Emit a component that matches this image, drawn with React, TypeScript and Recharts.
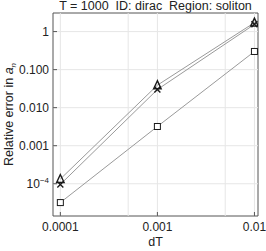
import React from 'react';
import {
  LineChart, Line, XAxis, YAxis, ReferenceLine, ReferenceArea,
} from 'recharts';

// ---------------------------------------------------------------------------
// Data
// ---------------------------------------------------------------------------

const dtValues = [0.0001, 0.001, 0.01];
const triangleErr = [1.33e-4, 0.039, 1.72];
const crossErr = [0.96e-4, 0.030, 1.55];
const squareErr = [3.2e-5, 0.0032, 0.30];

const xTicks = [0.0001, 0.001, 0.01];
const xTickLabels = ['0.0001', '0.001', '0.01'];
const xGrid = [0.0001, 0.0005, 0.001, 0.005, 0.01];

const yTicks = [1, 0.1, 0.01, 0.001, 0.0001];
const yTickLabels = ['1', '0.100', '0.010', '0.001', '10^-4'];

const xDomain = [8.4e-5, 0.01088];
const yDomain = [1.42e-5, 3.08];

const TITLE = 'T = 1000  ID: dirac  Region: soliton';

const data = dtValues.map((dt, i) => ({
  dt,
  tri: triangleErr[i],
  cross: crossErr[i],
  sq: squareErr[i],
}));

// ---------------------------------------------------------------------------
// Styling
// ---------------------------------------------------------------------------

const FONT = 'Liberation Sans, Arial, sans-serif';
const TEXT = '#222222';
const FRAME = '#555555';
const GRID = '#e6e6e6';
const LINE = '#9a9a9a';
const MARK = '#1a1a1a';

const W = 266;
const H = 251;
const M = { top: 13, right: 8, bottom: 0, left: 0 };
const Y_AXIS_W = 53;
const X_AXIS_H = 35;

// ---------------------------------------------------------------------------
// Ticks
// ---------------------------------------------------------------------------

function XTick({ x, y, payload }: any) {
  const i = xTicks.indexOf(payload.value);
  return (
    <g>
      <line x1={x} x2={x} y1={y} y2={y - 4} stroke={FRAME} strokeWidth={1} />
      <text x={x} y={y + 15} textAnchor="middle" fontSize={12} fontFamily={FONT} fill={TEXT}>
        {xTickLabels[i]}
      </text>
    </g>
  );
}

function YTick({ x, y, payload }: any) {
  const i = yTicks.indexOf(payload.value);
  const label = yTickLabels[i] ?? '';
  const sup = label.includes('^');
  const [base, exp] = label.split('^');
  return (
    <g>
      <line x1={x} x2={x + 4} y1={y} y2={y} stroke={FRAME} strokeWidth={1} />
      {sup ? (
        <text x={x - 4} y={y + 4} textAnchor="end" fontSize={12} fontFamily={FONT} fill={TEXT}>
          {base}
          <tspan fontSize={8} dy={-5}>{exp.replace('-', '\u2212')}</tspan>
        </text>
      ) : (
        <text x={x - 4} y={y + 4} textAnchor="end" fontSize={12} fontFamily={FONT} fill={TEXT}>
          {label}
        </text>
      )}
    </g>
  );
}

// ---------------------------------------------------------------------------
// Markers
// ---------------------------------------------------------------------------

function TriangleDot({ cx, cy, index }: any) {
  if (cx == null || cy == null) return <g key={index} />;
  const h = 8, w = 7.5;
  const pts = `${cx},${cy - h / 2 - 0.5} ${cx - w / 2},${cy + h / 2 - 0.5} ${cx + w / 2},${cy + h / 2 - 0.5}`;
  return <polygon key={index} points={pts} fill="none" stroke={MARK} strokeWidth={1.4} strokeLinejoin="miter" />;
}

function CrossDot({ cx, cy, index }: any) {
  if (cx == null || cy == null) return <g key={index} />;
  const s = 3;
  return (
    <g key={index} stroke={MARK} strokeWidth={1.4}>
      <line x1={cx - s} y1={cy - s} x2={cx + s} y2={cy + s} />
      <line x1={cx - s} y1={cy + s} x2={cx + s} y2={cy - s} />
    </g>
  );
}

function SquareDot({ cx, cy, index }: any) {
  if (cx == null || cy == null) return <g key={index} />;
  const s = 6;
  return (
    <rect key={index} x={cx - s / 2} y={cy - s / 2} width={s} height={s}
      fill="#ffffff" stroke={MARK} strokeWidth={1} />
  );
}

// ---------------------------------------------------------------------------
// Chart
// ---------------------------------------------------------------------------

export default function App() {
  const plotLeft = M.left + Y_AXIS_W;
  const plotRight = W - M.right;
  const plotTop = M.top;
  const plotBottom = H - M.bottom - X_AXIS_H;
  const cx = (plotLeft + plotRight) / 2;
  const cy = (plotTop + plotBottom) / 2;

  return (
    <div style={{ position: 'absolute', left: 0, top: 0, width: W, height: H, background: '#ffffff' }}>
      <LineChart width={W} height={H} data={data} margin={M}>
        {xGrid.map((v) => (
          <ReferenceLine key={'gx' + v} x={v} stroke={GRID} strokeWidth={1} />
        ))}
        {yTicks.map((v) => (
          <ReferenceLine key={'gy' + v} y={v} stroke={GRID} strokeWidth={1} />
        ))}

        <XAxis
          dataKey="dt"
          type="number"
          scale="log"
          domain={xDomain}
          ticks={xTicks}
          allowDataOverflow
          axisLine={false}
          tickLine={false}
          tickSize={0}
          tickMargin={0}
          height={X_AXIS_H}
          tick={<XTick />}
          interval={0}
        />
        <YAxis
          type="number"
          scale="log"
          domain={yDomain}
          ticks={yTicks}
          allowDataOverflow
          axisLine={false}
          tickLine={false}
          tickSize={0}
          tickMargin={0}
          width={Y_AXIS_W}
          tick={<YTick />}
          interval={0}
        />

        <ReferenceArea
          x1={xDomain[0]} x2={xDomain[1]} y1={yDomain[0]} y2={yDomain[1]}
          fill="none" fillOpacity={0} stroke={FRAME} strokeWidth={1} ifOverflow="visible"
        />

        <Line dataKey="sq" type="linear" stroke={LINE} strokeWidth={1}
          dot={(p: any) => <SquareDot key={'s' + p.index} {...p} />} activeDot={false}
          isAnimationActive={false} />
        <Line dataKey="cross" type="linear" stroke={LINE} strokeWidth={1}
          dot={(p: any) => <CrossDot key={'c' + p.index} {...p} />} activeDot={false}
          isAnimationActive={false} />
        <Line dataKey="tri" type="linear" stroke={LINE} strokeWidth={1}
          dot={(p: any) => <TriangleDot key={'t' + p.index} {...p} />} activeDot={false}
          isAnimationActive={false} />

        <text x={cx} y={10} textAnchor="middle" fontSize={12.5} fontFamily={FONT} fill={TEXT}
          style={{ whiteSpace: 'pre' }}>
          {TITLE}
        </text>
        <text x={cx} y={246} textAnchor="middle" fontSize={12.5} fontFamily={FONT} fill={TEXT}>
          dT
        </text>
        <text x={13} y={cy} textAnchor="middle" fontSize={12.5} fontFamily={FONT} fill={TEXT}
          transform={`rotate(-90 13 ${cy})`}>
          Relative error in <tspan fontStyle="italic">a</tspan>
          <tspan fontStyle="italic" fontSize={8} dy={3}>n</tspan>
        </text>
      </LineChart>
    </div>
  );
}
